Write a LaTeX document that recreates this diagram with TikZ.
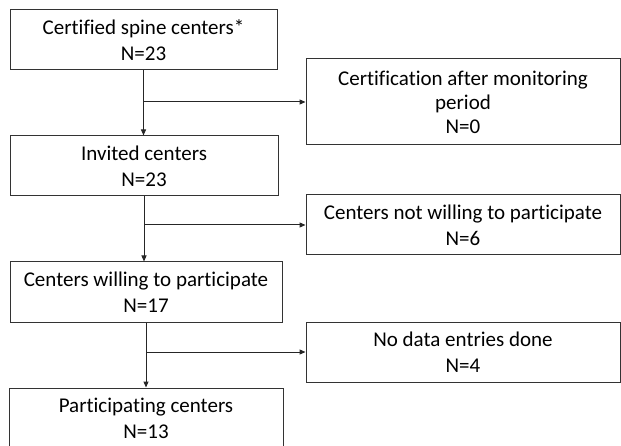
\documentclass[tikz,border=0pt]{standalone}
\usepackage{fontspec}
\setmainfont[Ligatures=NoCommon]{Carlito}
\usetikzlibrary{arrows.meta}
\tikzset{
  stage/.style={draw=black!80, line width=1pt, align=center, inner sep=0pt,
    font=\fontsize{21}{26}\selectfont},
  flow/.style={draw=black!85, line width=1pt, arrows={-Triangle[length=6pt,width=5pt]}}
}
\begin{document}
\begin{tikzpicture}[x=1pt,y=-1pt]
\useasboundingbox (0,0) rectangle (621,446);
% main column
\node[stage, minimum width=267, minimum height=60] (cert) at (143.5,40) {Certified spine centers*\\N=23};
\node[stage, minimum width=268, minimum height=60] (inv) at (144,166) {Invited centers\\N=23};
\node[stage, minimum width=272, minimum height=60] (will) at (146,292) {Centers willing to participate\\N=17};
\node[stage, minimum width=274, minimum height=60] (part) at (146,418) {Participating centers\\N=13};
% exclusions
\node[stage, minimum width=314, minimum height=86, font=\fontsize{21}{24}\selectfont] (late) at (463,102) {Certification after monitoring\\period\\N=0};
\node[stage, minimum width=314, minimum height=60] (notw) at (463,225) {Centers not willing to participate\\N=6};
\node[stage, minimum width=314, minimum height=60] (nodata) at (463,352) {No data entries done\\N=4};
% connectors
\draw[flow] (cert.south) -- (cert.south |- inv.north);
\draw[flow] (inv.south) -- (inv.south |- will.north);
\draw[flow] (will.south) -- (will.south |- part.north);
\coordinate (j1) at (cert.south |- late.west);
\coordinate (j2) at (inv.south |- notw.west);
\coordinate (j3) at (will.south |- nodata.west);
\draw[flow] (j1) -- (late.west);
\draw[flow] (j2) -- (notw.west);
\draw[flow] (j3) -- (nodata.west);
\end{tikzpicture}
\end{document}
